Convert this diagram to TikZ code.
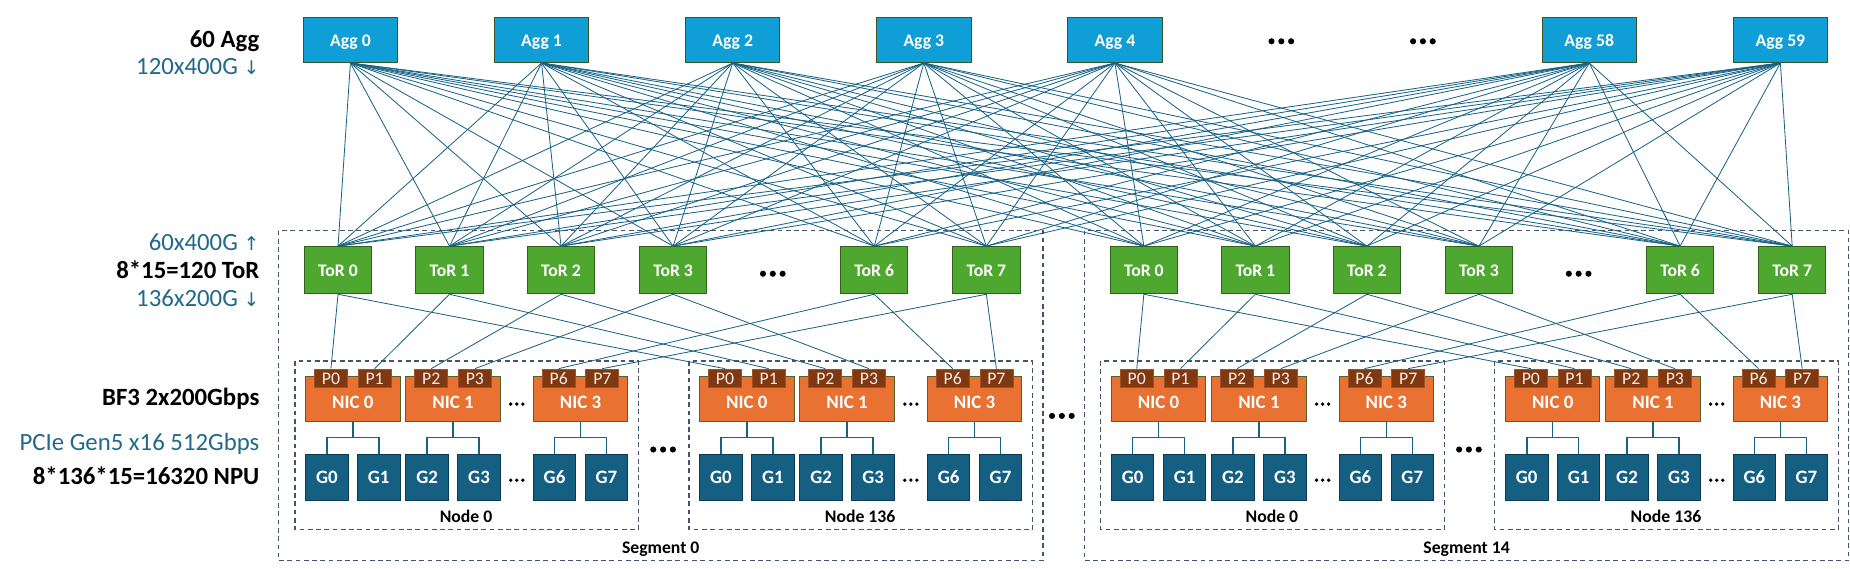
\documentclass[tikz,border=0pt]{standalone}
\usepackage{fontspec}
\setmainfont{Carlito}
\newfontfamily\arrowfont{DejaVu Sans}
\usetikzlibrary{calc}
\definecolor{aggblue}{RGB}{15,158,213}
\definecolor{aggedge}{RGB}{56,87,35}
\definecolor{torgreen}{RGB}{78,167,46}
\definecolor{toredge}{RGB}{48,98,30}
\definecolor{nicorange}{RGB}{233,113,50}
\definecolor{nicedge}{RGB}{78,100,40}
\definecolor{portbrown}{RGB}{128,56,16}
\definecolor{portedge}{RGB}{160,80,36}
\definecolor{gpublue}{RGB}{21,96,130}
\definecolor{gpuedge}{RGB}{12,58,80}
\definecolor{linkblue}{RGB}{24,98,134}
\definecolor{labelteal}{RGB}{33,105,138}
\definecolor{dashgray}{RGB}{68,84,106}
\tikzset{
  boxtext/.style={inner sep=0pt, text=white, text height=10pt, text depth=0pt},
  aggbox/.style={boxtext, draw=aggedge, fill=aggblue, line width=0.8pt, minimum width=80pt, minimum height=38pt, font=\fontsize{15}{18}\selectfont\bfseries},
  torbox/.style={boxtext, draw=toredge, fill=torgreen, line width=0.8pt, minimum width=57pt, minimum height=40pt, font=\fontsize{15}{18}\selectfont\bfseries},
  nicbox/.style={boxtext, draw=nicedge, fill=nicorange, line width=0.8pt, minimum width=80pt, minimum height=38pt, font=\fontsize{16}{18}\selectfont\bfseries, text height=16pt},
  portbox/.style={boxtext, draw=portedge, fill=portbrown, line width=0.6pt, minimum width=28pt, minimum height=15.5pt, font=\fontsize{15}{18}\selectfont, text=white!92!portbrown},
  gpubox/.style={boxtext, draw=gpuedge, fill=gpublue, line width=0.8pt, minimum width=36pt, minimum height=39pt, font=\fontsize{16}{18}\selectfont\bfseries},
  link/.style={draw=linkblue, line width=0.7pt},
  treelink/.style={draw=linkblue, line width=1.3pt},
  groupbox/.style={draw=dashgray, line width=1pt, dash pattern=on 4pt off 3pt},
  grouplabel/.style={inner sep=0pt, font=\fontsize{15}{18}\selectfont\bfseries, text height=10pt, text depth=0pt},
  rowtitle/.style={anchor=east, inner sep=0pt, font=\fontsize{21}{24}\selectfont\bfseries, text height=14pt, text depth=0pt},
  rowlabel/.style={anchor=east, inner sep=0pt, font=\fontsize{21}{24}\selectfont, text=labelteal, text height=14pt, text depth=0pt}
}
\def\dotrow(#1,#2)[#3]{\foreach \d in {-1,0,1}{\fill ({#1+(\d)*3.2*#3},#2) circle (#3);}}
\def\npunode#1#2#3{%
  \draw[groupbox] (#1,306) rectangle ++(291,143);
  \foreach \k/\a/\b/\dx in {0/0/1/9,1/2/3/94,3/6/7/202}{
    \node[nicbox] (#2-nic\k) at ({#1+\dx+40},338) {NIC \k};
    \node[portbox] (#2-p\a) at ({#1+\dx+21.5},320.5) {P\a};
    \node[portbox] (#2-p\b) at ({#1+\dx+58.5},320.5) {P\b};
    \node[gpubox] (#2-g\a) at ({#1+\dx+18},404.5) {G\a};
    \node[gpubox] (#2-g\b) at ({#1+\dx+62},404.5) {G\b};
    \draw[treelink] (#2-nic\k.south) -- ++(0,13.5) -| (#2-g\a.north);
    \draw[treelink] (#2-nic\k.south) -- ++(0,13.5) -| (#2-g\b.north);
  }
  \node[grouplabel] (#2-label) at ({#1+145},438) {Node #3};
  \dotrow({#1+188},342.5)[1.6]
  \dotrow({#1+188},407)[1.6]
}
\def\npusegment#1#2#3{%
  \draw[groupbox] (#1,195.5) rectangle ++(648,279.5);
  \foreach \t/\dx in {0/50.5,1/145,2/239.5,3/334.5,6/505,7/600}
    \node[torbox] (#2-tor\t) at ({#1+\dx},229) {ToR \t};
  \dotrow({#1+419},232)[2.6]
  \npunode{#1+14}{#2a}{0}
  \npunode{#1+348}{#2b}{136}
  \dotrow({#1+326},381)[2.6]
  \node[grouplabel] (#2-label) at ({#1+324},464) {Segment #3};
  \foreach \t in {0,1,2,3,6,7}{
    \draw[link] (#2-tor\t.south) -- (#2a-p\t.north);
    \draw[link] (#2-tor\t.south) -- (#2b-p\t.north);
  }
}

\begin{document}
\begin{tikzpicture}[x=1pt,y=-1pt]
  %%%%% START %%%%%
  \useasboundingbox (0,0) rectangle (1568,482);

  % row labels
  \node[rowtitle] (aggtitle) at (220,33) {60 Agg};
  \node[rowlabel] (aggdown) at (220,56) {120x400G {\arrowfont\fontsize{16}{18}\selectfont↓}};
  \node[rowlabel] (torup) at (220,205) {60x400G {\arrowfont\fontsize{16}{18}\selectfont↑}};
  \node[rowtitle] (tortitle) at (220,229) {8*15=120 ToR};
  \node[rowlabel] (tordown) at (220,253) {136x200G {\arrowfont\fontsize{16}{18}\selectfont↓}};
  \node[rowtitle] (nictitle) at (220,336.5) {BF3 2x200Gbps};
  \node[rowlabel] (pcie) at (220,374.5) {PCIe Gen5 x16 512Gbps};
  \node[rowtitle] (nputitle) at (220,404) {8*136*15=16320 NPU};

  % aggregation switches
  \foreach \i/\x in {0/297,1/459,2/621,3/783,4/945,58/1347,59/1509}
    \node[aggbox] (agg\i) at (\x,34) {Agg \i};
  \dotrow(1086,35)[2.6]
  \dotrow(1206,35)[2.6]

  % segments
  \npusegment{236}{s0}{0}
  \dotrow(900,352.5)[2.6]
  \npusegment{919}{s14}{14}

  % agg <-> tor mesh
  \foreach \i in {0,1,2,3,4,58,59}
    \foreach \s in {s0,s14}
      \foreach \t in {0,1,2,3,6,7}
        \draw[link] (agg\i.south) -- (\s-tor\t.north);

  %%%%% END %%%%%
\end{tikzpicture}
\end{document}
